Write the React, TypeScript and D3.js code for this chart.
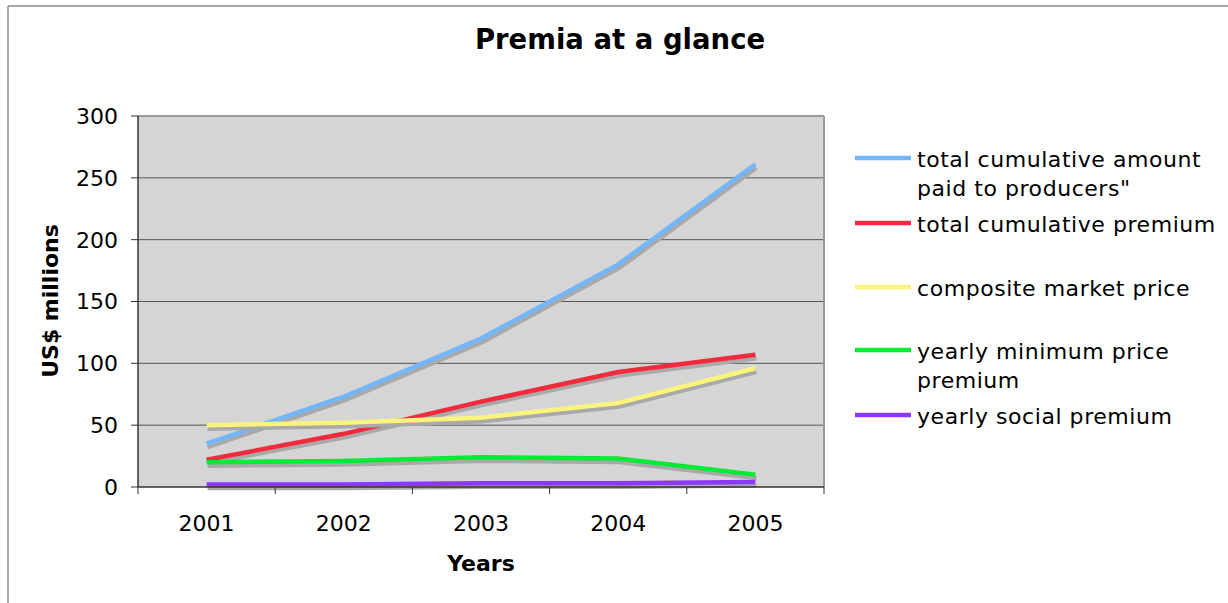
import React from "react";
import * as d3 from "d3";

const years = ["2001", "2002", "2003", "2004", "2005"];
const totalPaid = [35, 73, 120, 180, 261];
const totalPremium = [22, 43, 69, 93, 107];
const marketPrice = [50, 52, 56, 68, 96];
const minPricePremium = [20, 21, 24, 23, 10];
const socialPremium = [2, 2, 3, 3, 4];
const yTicks = [0, 50, 100, 150, 200, 250, 300];

const seriesNames = [
  ["total cumulative amount", 'paid to producers"'],
  ["total cumulative premium"],
  ["composite market price"],
  ["yearly minimum price", "premium"],
  ["yearly social premium"],
];
const seriesColors = ["#72b6fb", "#f22a3c", "#f8f47c", "#00ec34", "#8b38f8"];
const seriesValues = [totalPaid, totalPremium, marketPrice, minPricePremium, socialPremium];
const legendY = [158, 223, 287, 350, 415];

const W = 1228;
const H = 603;
const plot = { left: 138, right: 824, top: 116, bottom: 487 };
const FONT = "'DejaVu Sans', Verdana, sans-serif";

export default function App() {
  const x = d3.scaleBand().domain(years).range([plot.left, plot.right]);
  const y = d3.scaleLinear().domain([0, 300]).range([plot.bottom, plot.top]);
  const line = d3
    .line<number>()
    .x((_, i) => (x(years[i]) as number) + x.bandwidth() / 2)
    .y((d) => y(d));

  const xTickPos = [...years.map((yr) => x(yr) as number), plot.right];

  return (
    <svg
      width={W}
      height={H}
      style={{ position: "absolute", left: 0, top: 0, background: "#fff" }}
      fontFamily={FONT}
    >
      {/* outer border */}
      <line x1={8} y1={6} x2={W} y2={6} stroke="#8a8a8a" strokeWidth={1.5} />
      <line x1={8} y1={6} x2={8} y2={H} stroke="#8a8a8a" strokeWidth={1.5} />

      <text x={620} y={49} textAnchor="middle" fontSize={27.5} fontWeight="bold">
        Premia at a glance
      </text>

      {/* plot background */}
      <rect
        x={plot.left}
        y={plot.top}
        width={plot.right - plot.left}
        height={plot.bottom - plot.top}
        fill="#d5d5d5"
      />
      {/* gridlines */}
      {yTicks.slice(1, -1).map((t) => (
        <line key={t} x1={plot.left} x2={plot.right} y1={y(t)} y2={y(t)} stroke="#555" strokeWidth={1} />
      ))}
      {/* top and right border */}
      <line x1={plot.left} x2={plot.right} y1={plot.top} y2={plot.top} stroke="#999" strokeWidth={2} />
      <line x1={plot.right} x2={plot.right} y1={plot.top} y2={plot.bottom} stroke="#999" strokeWidth={2} />

      {/* series */}
      {seriesValues.map((vals, i) => (
        <g key={i}>
          <path
            d={line(vals) || ""}
            transform="translate(1,3.5)"
            fill="none"
            stroke="#a9a9a9"
            strokeWidth={4.5}
          />
          <path d={line(vals) || ""} fill="none" stroke={seriesColors[i]} strokeWidth={4.5} />
        </g>
      ))}

      {/* axes */}
      <line x1={plot.left} x2={plot.left} y1={plot.top} y2={plot.bottom} stroke="#333" strokeWidth={1.5} />
      <line x1={plot.left} x2={plot.right} y1={plot.bottom} y2={plot.bottom} stroke="#333" strokeWidth={1.5} />
      {yTicks.map((t) => (
        <g key={t}>
          <line x1={plot.left - 7} x2={plot.left} y1={y(t)} y2={y(t)} stroke="#333" strokeWidth={1} />
          <text x={118} y={y(t)} dy="0.36em" textAnchor="end" fontSize={22}>
            {t}
          </text>
        </g>
      ))}
      {xTickPos.map((p, i) => (
        <line key={i} x1={p} x2={p} y1={plot.bottom} y2={plot.bottom + 7} stroke="#333" strokeWidth={1} />
      ))}
      {years.map((yr) => (
        <text
          key={yr}
          x={(x(yr) as number) + x.bandwidth() / 2}
          y={531}
          textAnchor="middle"
          fontSize={22}
        >
          {yr}
        </text>
      ))}

      <text x={481} y={571} textAnchor="middle" fontSize={22} fontWeight="bold">
        Years
      </text>
      <text
        transform="translate(58,301) rotate(-90)"
        textAnchor="middle"
        fontSize={22}
        fontWeight="bold"
      >
        US$ millions
      </text>

      {/* legend */}
      {seriesNames.map((lines, i) => (
        <g key={i}>
          <line x1={855} x2={911} y1={legendY[i]} y2={legendY[i]} stroke={seriesColors[i]} strokeWidth={4.5} />
          {lines.map((l, j) => (
            <text key={j} x={917} y={legendY[i] + 9 + j * 29} fontSize={22} letterSpacing={0.55}>
              {l}
            </text>
          ))}
        </g>
      ))}
    </svg>
  );
}
